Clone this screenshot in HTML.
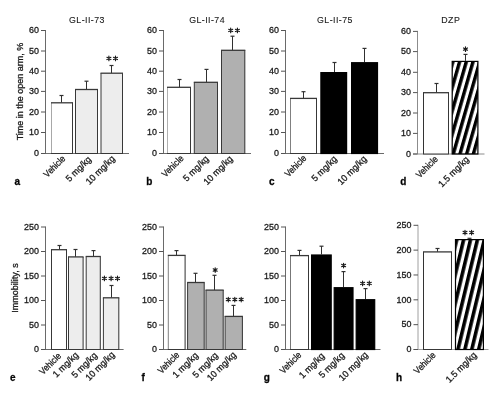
<!DOCTYPE html>
<html><head><meta charset="utf-8"><style>
html,body{margin:0;padding:0;background:#fff;overflow:hidden;}
svg{display:block;will-change:transform;}
text{font-family:"Liberation Sans", sans-serif;fill:#1a1a1a;stroke:#1a1a1a;stroke-width:0.3px;}
.t{font-size:9.5px;}
.x{font-size:9.3px;}
.y{font-size:9px;}
.T{font-size:8.8px;letter-spacing:0.45px;stroke-width:0.1px;}
.L{font-size:10px;font-weight:bold;fill:#000;}
</style></head><body>
<svg width="499" height="401" viewBox="0 0 499 401">
<defs>
<pattern id="stripeD" patternUnits="userSpaceOnUse" x="-0.11" y="0" width="6.44" height="6.44" patternTransform="rotate(16)">
<rect x="0" y="0" width="3.4" height="6.44" fill="#000"/>
</pattern>
<pattern id="stripeH" patternUnits="userSpaceOnUse" x="1.75" y="0" width="6.71" height="6.71" patternTransform="rotate(13.5)">
<rect x="0" y="0" width="3.55" height="6.71" fill="#000"/>
</pattern>
</defs>
<rect width="499" height="401" fill="#fff"/>
<line x1="45.5" y1="30.0" x2="45.5" y2="153.5" stroke="#6a6a6a" stroke-width="1"/>
<line x1="41.0" y1="153.5" x2="129" y2="153.5" stroke="#6a6a6a" stroke-width="1"/>
<line x1="41.0" y1="153.5" x2="45.5" y2="153.5" stroke="#555555" stroke-width="1"/>
<text transform="translate(38.9,156.2) scale(0.94,1)" text-anchor="end" class="t">0</text>
<line x1="41.0" y1="132.5" x2="45.5" y2="132.5" stroke="#555555" stroke-width="1"/>
<text transform="translate(38.9,135.2) scale(0.94,1)" text-anchor="end" class="t">10</text>
<line x1="41.0" y1="112" x2="45.5" y2="112" stroke="#555555" stroke-width="1"/>
<text transform="translate(38.9,114.7) scale(0.94,1)" text-anchor="end" class="t">20</text>
<line x1="41.0" y1="91.4" x2="45.5" y2="91.4" stroke="#555555" stroke-width="1"/>
<text transform="translate(38.9,94.10000000000001) scale(0.94,1)" text-anchor="end" class="t">30</text>
<line x1="41.0" y1="71.2" x2="45.5" y2="71.2" stroke="#555555" stroke-width="1"/>
<text transform="translate(38.9,73.9) scale(0.94,1)" text-anchor="end" class="t">40</text>
<line x1="41.0" y1="51" x2="45.5" y2="51" stroke="#555555" stroke-width="1"/>
<text transform="translate(38.9,53.7) scale(0.94,1)" text-anchor="end" class="t">50</text>
<line x1="41.0" y1="30.5" x2="45.5" y2="30.5" stroke="#555555" stroke-width="1"/>
<text transform="translate(38.9,33.2) scale(0.94,1)" text-anchor="end" class="t">60</text>
<line x1="61.5" y1="102.8" x2="61.5" y2="95.5" stroke="#303030" stroke-width="1"/>
<line x1="59.5" y1="95.5" x2="63.5" y2="95.5" stroke="#303030" stroke-width="1.2"/>
<rect x="51.5" y="102.8" width="21.0" height="50.7" fill="#fff"/>
<path d="M51.5,153.5V102.8" stroke="#a8a8a8" stroke-width="1" fill="none"/>
<path d="M51.0,102.8H73.0" stroke="#383838" stroke-width="1.3" fill="none"/>
<path d="M72.5,102.8V153.5" stroke="#383838" stroke-width="1.05" fill="none"/>
<path d="M51.0,153.5H73.0" stroke="#383838" stroke-width="1" fill="none"/>
<line x1="86.5" y1="89.5" x2="86.5" y2="81.2" stroke="#303030" stroke-width="1"/>
<line x1="84.5" y1="81.2" x2="88.5" y2="81.2" stroke="#303030" stroke-width="1.2"/>
<rect x="75.5" y="89.5" width="22.0" height="64.0" fill="#ededed"/>
<path d="M75.5,153.5V89.5" stroke="#383838" stroke-width="1" fill="none"/>
<path d="M75.0,89.5H98.0" stroke="#383838" stroke-width="1.3" fill="none"/>
<path d="M97.5,89.5V153.5" stroke="#383838" stroke-width="1.05" fill="none"/>
<path d="M75.0,153.5H98.0" stroke="#383838" stroke-width="1" fill="none"/>
<line x1="111.5" y1="73.2" x2="111.5" y2="65.5" stroke="#303030" stroke-width="1"/>
<line x1="109.5" y1="65.5" x2="113.5" y2="65.5" stroke="#303030" stroke-width="1.2"/>
<rect x="101" y="73.2" width="21.5" height="80.3" fill="#ededed"/>
<path d="M101,153.5V73.2" stroke="#383838" stroke-width="1" fill="none"/>
<path d="M100.5,73.2H123.0" stroke="#383838" stroke-width="1.3" fill="none"/>
<path d="M122.5,73.2V153.5" stroke="#383838" stroke-width="1.05" fill="none"/>
<path d="M100.5,153.5H123.0" stroke="#383838" stroke-width="1" fill="none"/>
<path d="M108.90,56.10L108.90,60.70M106.91,57.25L110.89,59.55M110.89,57.25L106.91,59.55" stroke="#1a1a1a" stroke-width="1.15" fill="none" stroke-linecap="round"/>
<path d="M115.50,56.10L115.50,60.70M113.51,57.25L117.49,59.55M117.49,57.25L113.51,59.55" stroke="#1a1a1a" stroke-width="1.15" fill="none" stroke-linecap="round"/>
<text transform="translate(66.00,159.25) rotate(-45) scale(0.88,1)" text-anchor="end" class="x">Vehicle</text>
<text transform="translate(91.85,159.90) rotate(-45) scale(0.96,1)" text-anchor="end" class="x">5 mg/kg</text>
<text transform="translate(115.40,159.25) rotate(-45) scale(0.96,1)" text-anchor="end" class="x">10 mg/kg</text>
<text x="14.5" y="185" class="L">a</text>
<text x="87.0" y="22.5" text-anchor="middle" class="T">GL-II-73</text>
<text transform="translate(22.5,91.5) rotate(-90)" text-anchor="middle" class="y">Time in the open arm, %</text>
<line x1="163.5" y1="30.0" x2="163.5" y2="153.5" stroke="#6a6a6a" stroke-width="1"/>
<line x1="159.0" y1="153.5" x2="251" y2="153.5" stroke="#6a6a6a" stroke-width="1"/>
<line x1="159.0" y1="153.5" x2="163.5" y2="153.5" stroke="#555555" stroke-width="1"/>
<text transform="translate(156.9,156.2) scale(0.94,1)" text-anchor="end" class="t">0</text>
<line x1="159.0" y1="132.5" x2="163.5" y2="132.5" stroke="#555555" stroke-width="1"/>
<text transform="translate(156.9,135.2) scale(0.94,1)" text-anchor="end" class="t">10</text>
<line x1="159.0" y1="112" x2="163.5" y2="112" stroke="#555555" stroke-width="1"/>
<text transform="translate(156.9,114.7) scale(0.94,1)" text-anchor="end" class="t">20</text>
<line x1="159.0" y1="91.4" x2="163.5" y2="91.4" stroke="#555555" stroke-width="1"/>
<text transform="translate(156.9,94.10000000000001) scale(0.94,1)" text-anchor="end" class="t">30</text>
<line x1="159.0" y1="71.2" x2="163.5" y2="71.2" stroke="#555555" stroke-width="1"/>
<text transform="translate(156.9,73.9) scale(0.94,1)" text-anchor="end" class="t">40</text>
<line x1="159.0" y1="51" x2="163.5" y2="51" stroke="#555555" stroke-width="1"/>
<text transform="translate(156.9,53.7) scale(0.94,1)" text-anchor="end" class="t">50</text>
<line x1="159.0" y1="30.5" x2="163.5" y2="30.5" stroke="#555555" stroke-width="1"/>
<text transform="translate(156.9,33.2) scale(0.94,1)" text-anchor="end" class="t">60</text>
<line x1="179.5" y1="87.3" x2="179.5" y2="79.5" stroke="#303030" stroke-width="1"/>
<line x1="177.5" y1="79.5" x2="181.5" y2="79.5" stroke="#303030" stroke-width="1.2"/>
<rect x="167.5" y="87.3" width="23.0" height="66.2" fill="#fff"/>
<path d="M167.5,153.5V87.3" stroke="#b0b0b0" stroke-width="1" fill="none"/>
<path d="M167.0,87.3H191.0" stroke="#383838" stroke-width="1.3" fill="none"/>
<path d="M190.5,87.3V153.5" stroke="#383838" stroke-width="1.05" fill="none"/>
<path d="M167.0,153.5H191.0" stroke="#383838" stroke-width="1" fill="none"/>
<line x1="206.5" y1="82.3" x2="206.5" y2="69.4" stroke="#303030" stroke-width="1"/>
<line x1="204.5" y1="69.4" x2="208.5" y2="69.4" stroke="#303030" stroke-width="1.2"/>
<rect x="194.3" y="82.3" width="23.19999999999999" height="71.2" fill="#b0b0b0"/>
<path d="M194.3,153.5V82.3" stroke="#383838" stroke-width="1" fill="none"/>
<path d="M193.8,82.3H218.0" stroke="#383838" stroke-width="1.3" fill="none"/>
<path d="M217.5,82.3V153.5" stroke="#383838" stroke-width="1.05" fill="none"/>
<path d="M193.8,153.5H218.0" stroke="#383838" stroke-width="1" fill="none"/>
<line x1="232.5" y1="50.3" x2="232.5" y2="36.2" stroke="#303030" stroke-width="1"/>
<line x1="230.5" y1="36.2" x2="234.5" y2="36.2" stroke="#303030" stroke-width="1.2"/>
<rect x="221.5" y="50.3" width="23.30000000000001" height="103.2" fill="#b0b0b0"/>
<path d="M221.5,153.5V50.3" stroke="#383838" stroke-width="1" fill="none"/>
<path d="M221.0,50.3H245.3" stroke="#383838" stroke-width="1.3" fill="none"/>
<path d="M244.8,50.3V153.5" stroke="#383838" stroke-width="1.05" fill="none"/>
<path d="M221.0,153.5H245.3" stroke="#383838" stroke-width="1" fill="none"/>
<path d="M230.70,28.10L230.70,32.70M228.71,29.25L232.69,31.55M232.69,29.25L228.71,31.55" stroke="#1a1a1a" stroke-width="1.15" fill="none" stroke-linecap="round"/>
<path d="M237.40,28.10L237.40,32.70M235.41,29.25L239.39,31.55M239.39,29.25L235.41,31.55" stroke="#1a1a1a" stroke-width="1.15" fill="none" stroke-linecap="round"/>
<text transform="translate(184.15,159.00) rotate(-45) scale(0.88,1)" text-anchor="end" class="x">Vehicle</text>
<text transform="translate(209.30,159.45) rotate(-45) scale(0.96,1)" text-anchor="end" class="x">5 mg/kg</text>
<text transform="translate(233.15,159.45) rotate(-45) scale(0.96,1)" text-anchor="end" class="x">10 mg/kg</text>
<text x="146.3" y="184.5" class="L">b</text>
<text x="207.1" y="22.5" text-anchor="middle" class="T">GL-II-74</text>
<line x1="285.5" y1="30.0" x2="285.5" y2="153.5" stroke="#6a6a6a" stroke-width="1"/>
<line x1="281.0" y1="153.5" x2="384" y2="153.5" stroke="#6a6a6a" stroke-width="1"/>
<line x1="281.0" y1="153.5" x2="285.5" y2="153.5" stroke="#555555" stroke-width="1"/>
<text transform="translate(278.9,156.2) scale(0.94,1)" text-anchor="end" class="t">0</text>
<line x1="281.0" y1="132.5" x2="285.5" y2="132.5" stroke="#555555" stroke-width="1"/>
<text transform="translate(278.9,135.2) scale(0.94,1)" text-anchor="end" class="t">10</text>
<line x1="281.0" y1="112" x2="285.5" y2="112" stroke="#555555" stroke-width="1"/>
<text transform="translate(278.9,114.7) scale(0.94,1)" text-anchor="end" class="t">20</text>
<line x1="281.0" y1="91.4" x2="285.5" y2="91.4" stroke="#555555" stroke-width="1"/>
<text transform="translate(278.9,94.10000000000001) scale(0.94,1)" text-anchor="end" class="t">30</text>
<line x1="281.0" y1="71.2" x2="285.5" y2="71.2" stroke="#555555" stroke-width="1"/>
<text transform="translate(278.9,73.9) scale(0.94,1)" text-anchor="end" class="t">40</text>
<line x1="281.0" y1="51" x2="285.5" y2="51" stroke="#555555" stroke-width="1"/>
<text transform="translate(278.9,53.7) scale(0.94,1)" text-anchor="end" class="t">50</text>
<line x1="281.0" y1="30.5" x2="285.5" y2="30.5" stroke="#555555" stroke-width="1"/>
<text transform="translate(278.9,33.2) scale(0.94,1)" text-anchor="end" class="t">60</text>
<line x1="303.5" y1="98.4" x2="303.5" y2="91.7" stroke="#303030" stroke-width="1"/>
<line x1="301.5" y1="91.7" x2="305.5" y2="91.7" stroke="#303030" stroke-width="1.2"/>
<rect x="290.5" y="98.4" width="26.0" height="55.099999999999994" fill="#fff"/>
<path d="M290.5,153.5V98.4" stroke="#808080" stroke-width="1" fill="none"/>
<path d="M290.0,98.4H317.0" stroke="#383838" stroke-width="1.3" fill="none"/>
<path d="M316.5,98.4V153.5" stroke="#383838" stroke-width="1.05" fill="none"/>
<path d="M290.0,153.5H317.0" stroke="#383838" stroke-width="1" fill="none"/>
<line x1="334.5" y1="72" x2="334.5" y2="62.5" stroke="#303030" stroke-width="1"/>
<line x1="332.5" y1="62.5" x2="336.5" y2="62.5" stroke="#303030" stroke-width="1.2"/>
<rect x="320.90" y="72.60" width="25.70" height="80.90" fill="#000" stroke="#000" stroke-width="1.2"/>
<line x1="364.5" y1="62.1" x2="364.5" y2="48.4" stroke="#303030" stroke-width="1"/>
<line x1="362.5" y1="48.4" x2="366.5" y2="48.4" stroke="#303030" stroke-width="1.2"/>
<rect x="351.60" y="62.70" width="25.90" height="90.80" fill="#000" stroke="#000" stroke-width="1.2"/>
<text transform="translate(307.05,158.80) rotate(-45) scale(0.88,1)" text-anchor="end" class="x">Vehicle</text>
<text transform="translate(337.60,159.55) rotate(-45) scale(0.96,1)" text-anchor="end" class="x">5 mg/kg</text>
<text transform="translate(367.15,159.55) rotate(-45) scale(0.96,1)" text-anchor="end" class="x">10 mg/kg</text>
<text x="269" y="184.8" class="L">c</text>
<text x="335.0" y="22.5" text-anchor="middle" class="T">GL-II-75</text>
<line x1="417.5" y1="30.9" x2="417.5" y2="154" stroke="#8c8c8c" stroke-width="1"/>
<line x1="413.0" y1="154" x2="484.5" y2="154" stroke="#8c8c8c" stroke-width="1"/>
<line x1="413.0" y1="154" x2="417.5" y2="154" stroke="#555555" stroke-width="1"/>
<text transform="translate(410.9,156.7) scale(0.94,1)" text-anchor="end" class="t">0</text>
<line x1="413.0" y1="133.4" x2="417.5" y2="133.4" stroke="#555555" stroke-width="1"/>
<text transform="translate(410.9,136.1) scale(0.94,1)" text-anchor="end" class="t">10</text>
<line x1="413.0" y1="113" x2="417.5" y2="113" stroke="#555555" stroke-width="1"/>
<text transform="translate(410.9,115.7) scale(0.94,1)" text-anchor="end" class="t">20</text>
<line x1="413.0" y1="92.6" x2="417.5" y2="92.6" stroke="#555555" stroke-width="1"/>
<text transform="translate(410.9,95.3) scale(0.94,1)" text-anchor="end" class="t">30</text>
<line x1="413.0" y1="72.3" x2="417.5" y2="72.3" stroke="#555555" stroke-width="1"/>
<text transform="translate(410.9,75.0) scale(0.94,1)" text-anchor="end" class="t">40</text>
<line x1="413.0" y1="51.6" x2="417.5" y2="51.6" stroke="#555555" stroke-width="1"/>
<text transform="translate(410.9,54.300000000000004) scale(0.94,1)" text-anchor="end" class="t">50</text>
<line x1="413.0" y1="31.4" x2="417.5" y2="31.4" stroke="#555555" stroke-width="1"/>
<text transform="translate(410.9,34.1) scale(0.94,1)" text-anchor="end" class="t">60</text>
<line x1="436.5" y1="92.7" x2="436.5" y2="83.5" stroke="#303030" stroke-width="1"/>
<line x1="434.5" y1="83.5" x2="438.5" y2="83.5" stroke="#303030" stroke-width="1.2"/>
<rect x="423.5" y="92.7" width="25.0" height="61.3" fill="#fff"/>
<path d="M423.5,154V92.7" stroke="#333333" stroke-width="1" fill="none"/>
<path d="M423.0,92.7H449.0" stroke="#383838" stroke-width="1.3" fill="none"/>
<path d="M448.5,92.7V154" stroke="#383838" stroke-width="1.05" fill="none"/>
<path d="M423.0,154H449.0" stroke="#383838" stroke-width="1" fill="none"/>
<line x1="465.5" y1="60.8" x2="465.5" y2="54.4" stroke="#303030" stroke-width="1"/>
<line x1="463.5" y1="54.4" x2="467.5" y2="54.4" stroke="#303030" stroke-width="1.2"/>
<rect x="452.20" y="61.40" width="25.70" height="92.60" fill="url(#stripeD)" stroke="#000" stroke-width="1.2"/>
<path d="M465.50,46.80L465.50,51.40M463.51,47.95L467.49,50.25M467.49,47.95L463.51,50.25" stroke="#1a1a1a" stroke-width="1.15" fill="none" stroke-linecap="round"/>
<text transform="translate(438.45,159.80) rotate(-45) scale(0.88,1)" text-anchor="end" class="x">Vehicle</text>
<text transform="translate(469.60,160.05) rotate(-45) scale(0.96,1)" text-anchor="end" class="x">1.5 mg/kg</text>
<text x="400.2" y="184.7" class="L">d</text>
<text x="450.8" y="23" text-anchor="middle" class="T">DZP</text>
<line x1="45.5" y1="226.5" x2="45.5" y2="349.5" stroke="#6a6a6a" stroke-width="1"/>
<line x1="41.0" y1="349.5" x2="123.6" y2="349.5" stroke="#6a6a6a" stroke-width="1"/>
<line x1="41.0" y1="349.5" x2="45.5" y2="349.5" stroke="#555555" stroke-width="1"/>
<text transform="translate(38.9,352.2) scale(0.94,1)" text-anchor="end" class="t">0</text>
<line x1="41.0" y1="325.0" x2="45.5" y2="325.0" stroke="#555555" stroke-width="1"/>
<text transform="translate(38.9,327.7) scale(0.94,1)" text-anchor="end" class="t">50</text>
<line x1="41.0" y1="300.5" x2="45.5" y2="300.5" stroke="#555555" stroke-width="1"/>
<text transform="translate(38.9,303.2) scale(0.94,1)" text-anchor="end" class="t">100</text>
<line x1="41.0" y1="276.0" x2="45.5" y2="276.0" stroke="#555555" stroke-width="1"/>
<text transform="translate(38.9,278.7) scale(0.94,1)" text-anchor="end" class="t">150</text>
<line x1="41.0" y1="251.5" x2="45.5" y2="251.5" stroke="#555555" stroke-width="1"/>
<text transform="translate(38.9,254.2) scale(0.94,1)" text-anchor="end" class="t">200</text>
<line x1="41.0" y1="227.0" x2="45.5" y2="227.0" stroke="#555555" stroke-width="1"/>
<text transform="translate(38.9,229.7) scale(0.94,1)" text-anchor="end" class="t">250</text>
<line x1="59.5" y1="249.7" x2="59.5" y2="245.5" stroke="#303030" stroke-width="1"/>
<line x1="57.5" y1="245.5" x2="61.5" y2="245.5" stroke="#303030" stroke-width="1.2"/>
<rect x="51.5" y="249.7" width="15.0" height="99.80000000000001" fill="#fff"/>
<path d="M51.5,349.5V249.7" stroke="#383838" stroke-width="1" fill="none"/>
<path d="M51.0,249.7H67.0" stroke="#383838" stroke-width="1.3" fill="none"/>
<path d="M66.5,249.7V349.5" stroke="#383838" stroke-width="1.05" fill="none"/>
<path d="M51.0,349.5H67.0" stroke="#383838" stroke-width="1" fill="none"/>
<line x1="75.5" y1="256.9" x2="75.5" y2="249.5" stroke="#303030" stroke-width="1"/>
<line x1="73.5" y1="249.5" x2="77.5" y2="249.5" stroke="#303030" stroke-width="1.2"/>
<rect x="68.5" y="256.9" width="14.599999999999994" height="92.60000000000002" fill="#ededed"/>
<path d="M68.5,349.5V256.9" stroke="#383838" stroke-width="1" fill="none"/>
<path d="M68.0,256.9H83.6" stroke="#383838" stroke-width="1.3" fill="none"/>
<path d="M83.1,256.9V349.5" stroke="#383838" stroke-width="1.05" fill="none"/>
<path d="M68.0,349.5H83.6" stroke="#383838" stroke-width="1" fill="none"/>
<line x1="93.5" y1="256.5" x2="93.5" y2="250.6" stroke="#303030" stroke-width="1"/>
<line x1="91.5" y1="250.6" x2="95.5" y2="250.6" stroke="#303030" stroke-width="1.2"/>
<rect x="86.2" y="256.5" width="14.099999999999994" height="93.0" fill="#ededed"/>
<path d="M86.2,349.5V256.5" stroke="#383838" stroke-width="1" fill="none"/>
<path d="M85.7,256.5H100.8" stroke="#383838" stroke-width="1.3" fill="none"/>
<path d="M100.3,256.5V349.5" stroke="#383838" stroke-width="1.05" fill="none"/>
<path d="M85.7,349.5H100.8" stroke="#383838" stroke-width="1" fill="none"/>
<line x1="111.5" y1="297.8" x2="111.5" y2="285.5" stroke="#303030" stroke-width="1"/>
<line x1="109.5" y1="285.5" x2="113.5" y2="285.5" stroke="#303030" stroke-width="1.2"/>
<rect x="103.4" y="297.8" width="15.399999999999991" height="51.69999999999999" fill="#ededed"/>
<path d="M103.4,349.5V297.8" stroke="#383838" stroke-width="1" fill="none"/>
<path d="M102.9,297.8H119.3" stroke="#383838" stroke-width="1.3" fill="none"/>
<path d="M118.8,297.8V349.5" stroke="#383838" stroke-width="1.05" fill="none"/>
<path d="M102.9,349.5H119.3" stroke="#383838" stroke-width="1" fill="none"/>
<path d="M104.40,276.10L104.40,280.70M102.41,277.25L106.39,279.55M106.39,277.25L102.41,279.55" stroke="#1a1a1a" stroke-width="1.15" fill="none" stroke-linecap="round"/>
<path d="M111.10,276.10L111.10,280.70M109.11,277.25L113.09,279.55M113.09,277.25L109.11,279.55" stroke="#1a1a1a" stroke-width="1.15" fill="none" stroke-linecap="round"/>
<path d="M117.50,276.10L117.50,280.70M115.51,277.25L119.49,279.55M119.49,277.25L115.51,279.55" stroke="#1a1a1a" stroke-width="1.15" fill="none" stroke-linecap="round"/>
<text transform="translate(61.70,356.50) rotate(-45) scale(0.88,1)" text-anchor="end" class="x">Vehicle</text>
<text transform="translate(78.95,355.65) rotate(-45) scale(0.96,1)" text-anchor="end" class="x">1 mg/kg</text>
<text transform="translate(97.70,356.10) rotate(-45) scale(0.96,1)" text-anchor="end" class="x">5 mg/kg</text>
<text transform="translate(115.20,355.25) rotate(-45) scale(0.96,1)" text-anchor="end" class="x">10 mg/kg</text>
<text x="10" y="381" class="L">e</text>
<text transform="translate(18,288) rotate(-90)" text-anchor="middle" class="y">Immobility, s</text>
<line x1="163.5" y1="226.5" x2="163.5" y2="349.5" stroke="#6a6a6a" stroke-width="1"/>
<line x1="159.0" y1="349.5" x2="246.3" y2="349.5" stroke="#6a6a6a" stroke-width="1"/>
<line x1="159.0" y1="349.5" x2="163.5" y2="349.5" stroke="#555555" stroke-width="1"/>
<text transform="translate(156.9,352.2) scale(0.94,1)" text-anchor="end" class="t">0</text>
<line x1="159.0" y1="325.0" x2="163.5" y2="325.0" stroke="#555555" stroke-width="1"/>
<text transform="translate(156.9,327.7) scale(0.94,1)" text-anchor="end" class="t">50</text>
<line x1="159.0" y1="300.5" x2="163.5" y2="300.5" stroke="#555555" stroke-width="1"/>
<text transform="translate(156.9,303.2) scale(0.94,1)" text-anchor="end" class="t">100</text>
<line x1="159.0" y1="276.0" x2="163.5" y2="276.0" stroke="#555555" stroke-width="1"/>
<text transform="translate(156.9,278.7) scale(0.94,1)" text-anchor="end" class="t">150</text>
<line x1="159.0" y1="251.5" x2="163.5" y2="251.5" stroke="#555555" stroke-width="1"/>
<text transform="translate(156.9,254.2) scale(0.94,1)" text-anchor="end" class="t">200</text>
<line x1="159.0" y1="227.0" x2="163.5" y2="227.0" stroke="#555555" stroke-width="1"/>
<text transform="translate(156.9,229.7) scale(0.94,1)" text-anchor="end" class="t">250</text>
<line x1="176.5" y1="255.4" x2="176.5" y2="250.6" stroke="#303030" stroke-width="1"/>
<line x1="174.5" y1="250.6" x2="178.5" y2="250.6" stroke="#303030" stroke-width="1.2"/>
<rect x="168.3" y="255.4" width="16.799999999999983" height="94.1" fill="#fff"/>
<path d="M168.3,349.5V255.4" stroke="#808080" stroke-width="1" fill="none"/>
<path d="M167.8,255.4H185.6" stroke="#383838" stroke-width="1.3" fill="none"/>
<path d="M185.1,255.4V349.5" stroke="#383838" stroke-width="1.05" fill="none"/>
<path d="M167.8,349.5H185.6" stroke="#383838" stroke-width="1" fill="none"/>
<line x1="195.5" y1="282.5" x2="195.5" y2="273.3" stroke="#303030" stroke-width="1"/>
<line x1="193.5" y1="273.3" x2="197.5" y2="273.3" stroke="#303030" stroke-width="1.2"/>
<rect x="187.6" y="282.5" width="16.599999999999994" height="67.0" fill="#b0b0b0"/>
<path d="M187.6,349.5V282.5" stroke="#383838" stroke-width="1" fill="none"/>
<path d="M187.1,282.5H204.7" stroke="#383838" stroke-width="1.3" fill="none"/>
<path d="M204.2,282.5V349.5" stroke="#383838" stroke-width="1.05" fill="none"/>
<path d="M187.1,349.5H204.7" stroke="#383838" stroke-width="1" fill="none"/>
<line x1="214.5" y1="290.1" x2="214.5" y2="275.3" stroke="#303030" stroke-width="1"/>
<line x1="212.5" y1="275.3" x2="216.5" y2="275.3" stroke="#303030" stroke-width="1.2"/>
<rect x="206" y="290.1" width="17.19999999999999" height="59.39999999999998" fill="#b0b0b0"/>
<path d="M206,349.5V290.1" stroke="#383838" stroke-width="1" fill="none"/>
<path d="M205.5,290.1H223.7" stroke="#383838" stroke-width="1.3" fill="none"/>
<path d="M223.2,290.1V349.5" stroke="#383838" stroke-width="1.05" fill="none"/>
<path d="M205.5,349.5H223.7" stroke="#383838" stroke-width="1" fill="none"/>
<line x1="233.5" y1="316.4" x2="233.5" y2="305.4" stroke="#303030" stroke-width="1"/>
<line x1="231.5" y1="305.4" x2="235.5" y2="305.4" stroke="#303030" stroke-width="1.2"/>
<rect x="225.1" y="316.4" width="17.30000000000001" height="33.10000000000002" fill="#b0b0b0"/>
<path d="M225.1,349.5V316.4" stroke="#383838" stroke-width="1" fill="none"/>
<path d="M224.6,316.4H242.9" stroke="#383838" stroke-width="1.3" fill="none"/>
<path d="M242.4,316.4V349.5" stroke="#383838" stroke-width="1.05" fill="none"/>
<path d="M224.6,349.5H242.9" stroke="#383838" stroke-width="1" fill="none"/>
<path d="M215.20,267.70L215.20,272.30M213.21,268.85L217.19,271.15M217.19,268.85L213.21,271.15" stroke="#1a1a1a" stroke-width="1.15" fill="none" stroke-linecap="round"/>
<path d="M228.30,297.20L228.30,301.80M226.31,298.35L230.29,300.65M230.29,298.35L226.31,300.65" stroke="#1a1a1a" stroke-width="1.15" fill="none" stroke-linecap="round"/>
<path d="M234.80,297.20L234.80,301.80M232.81,298.35L236.79,300.65M236.79,298.35L232.81,300.65" stroke="#1a1a1a" stroke-width="1.15" fill="none" stroke-linecap="round"/>
<path d="M241.20,297.20L241.20,301.80M239.21,298.35L243.19,300.65M243.19,298.35L239.21,300.65" stroke="#1a1a1a" stroke-width="1.15" fill="none" stroke-linecap="round"/>
<text transform="translate(180.05,355.50) rotate(-45) scale(0.88,1)" text-anchor="end" class="x">Vehicle</text>
<text transform="translate(198.70,356.10) rotate(-45) scale(0.96,1)" text-anchor="end" class="x">1 mg/kg</text>
<text transform="translate(218.60,356.10) rotate(-45) scale(0.96,1)" text-anchor="end" class="x">5 mg/kg</text>
<text transform="translate(236.75,355.45) rotate(-45) scale(0.96,1)" text-anchor="end" class="x">10 mg/kg</text>
<text x="141.5" y="381" class="L">f</text>
<line x1="285.5" y1="226.5" x2="285.5" y2="349.5" stroke="#6a6a6a" stroke-width="1"/>
<line x1="281.0" y1="349.5" x2="380.5" y2="349.5" stroke="#6a6a6a" stroke-width="1"/>
<line x1="281.0" y1="349.5" x2="285.5" y2="349.5" stroke="#555555" stroke-width="1"/>
<text transform="translate(278.9,352.2) scale(0.94,1)" text-anchor="end" class="t">0</text>
<line x1="281.0" y1="325.0" x2="285.5" y2="325.0" stroke="#555555" stroke-width="1"/>
<text transform="translate(278.9,327.7) scale(0.94,1)" text-anchor="end" class="t">50</text>
<line x1="281.0" y1="300.5" x2="285.5" y2="300.5" stroke="#555555" stroke-width="1"/>
<text transform="translate(278.9,303.2) scale(0.94,1)" text-anchor="end" class="t">100</text>
<line x1="281.0" y1="276.0" x2="285.5" y2="276.0" stroke="#555555" stroke-width="1"/>
<text transform="translate(278.9,278.7) scale(0.94,1)" text-anchor="end" class="t">150</text>
<line x1="281.0" y1="251.5" x2="285.5" y2="251.5" stroke="#555555" stroke-width="1"/>
<text transform="translate(278.9,254.2) scale(0.94,1)" text-anchor="end" class="t">200</text>
<line x1="281.0" y1="227.0" x2="285.5" y2="227.0" stroke="#555555" stroke-width="1"/>
<text transform="translate(278.9,229.7) scale(0.94,1)" text-anchor="end" class="t">250</text>
<line x1="299.5" y1="255.6" x2="299.5" y2="250.4" stroke="#303030" stroke-width="1"/>
<line x1="297.5" y1="250.4" x2="301.5" y2="250.4" stroke="#303030" stroke-width="1.2"/>
<rect x="290.5" y="255.6" width="18.0" height="93.9" fill="#fff"/>
<path d="M290.5,349.5V255.6" stroke="#777777" stroke-width="1" fill="none"/>
<path d="M290.0,255.6H309.0" stroke="#383838" stroke-width="1.3" fill="none"/>
<path d="M308.5,255.6V349.5" stroke="#383838" stroke-width="1.05" fill="none"/>
<path d="M290.0,349.5H309.0" stroke="#383838" stroke-width="1" fill="none"/>
<line x1="321.5" y1="254.4" x2="321.5" y2="246.2" stroke="#303030" stroke-width="1"/>
<line x1="319.5" y1="246.2" x2="323.5" y2="246.2" stroke="#303030" stroke-width="1.2"/>
<rect x="311.60" y="255.00" width="19.60" height="94.50" fill="#000" stroke="#000" stroke-width="1.2"/>
<line x1="343.5" y1="287.1" x2="343.5" y2="271.6" stroke="#303030" stroke-width="1"/>
<line x1="341.5" y1="271.6" x2="345.5" y2="271.6" stroke="#303030" stroke-width="1.2"/>
<rect x="334.20" y="287.70" width="18.80" height="61.80" fill="#000" stroke="#000" stroke-width="1.2"/>
<line x1="365.5" y1="299.1" x2="365.5" y2="288.6" stroke="#303030" stroke-width="1"/>
<line x1="363.5" y1="288.6" x2="367.5" y2="288.6" stroke="#303030" stroke-width="1.2"/>
<rect x="356.20" y="299.70" width="18.50" height="49.80" fill="#000" stroke="#000" stroke-width="1.2"/>
<path d="M343.60,263.20L343.60,267.80M341.61,264.35L345.59,266.65M345.59,264.35L341.61,266.65" stroke="#1a1a1a" stroke-width="1.15" fill="none" stroke-linecap="round"/>
<path d="M362.60,281.10L362.60,285.70M360.61,282.25L364.59,284.55M364.59,282.25L360.61,284.55" stroke="#1a1a1a" stroke-width="1.15" fill="none" stroke-linecap="round"/>
<path d="M369.30,281.10L369.30,285.70M367.31,282.25L371.29,284.55M371.29,282.25L367.31,284.55" stroke="#1a1a1a" stroke-width="1.15" fill="none" stroke-linecap="round"/>
<text transform="translate(302.05,355.50) rotate(-45) scale(0.88,1)" text-anchor="end" class="x">Vehicle</text>
<text transform="translate(325.10,356.55) rotate(-45) scale(0.96,1)" text-anchor="end" class="x">1 mg/kg</text>
<text transform="translate(345.00,356.10) rotate(-45) scale(0.96,1)" text-anchor="end" class="x">5 mg/kg</text>
<text transform="translate(368.55,355.45) rotate(-45) scale(0.96,1)" text-anchor="end" class="x">10 mg/kg</text>
<text x="263.8" y="381" class="L">g</text>
<line x1="418.0" y1="224.8" x2="418.0" y2="349.5" stroke="#a0a0a0" stroke-width="1"/>
<line x1="413.5" y1="349.5" x2="488.5" y2="349.5" stroke="#a0a0a0" stroke-width="1"/>
<line x1="413.5" y1="349.5" x2="418.0" y2="349.5" stroke="#555555" stroke-width="1"/>
<text transform="translate(411.4,352.2) scale(0.94,1)" text-anchor="end" class="t">0</text>
<line x1="413.5" y1="324.66" x2="418.0" y2="324.66" stroke="#555555" stroke-width="1"/>
<text transform="translate(411.4,327.36) scale(0.94,1)" text-anchor="end" class="t">50</text>
<line x1="413.5" y1="299.82" x2="418.0" y2="299.82" stroke="#555555" stroke-width="1"/>
<text transform="translate(411.4,302.52) scale(0.94,1)" text-anchor="end" class="t">100</text>
<line x1="413.5" y1="274.98" x2="418.0" y2="274.98" stroke="#555555" stroke-width="1"/>
<text transform="translate(411.4,277.68) scale(0.94,1)" text-anchor="end" class="t">150</text>
<line x1="413.5" y1="250.14" x2="418.0" y2="250.14" stroke="#555555" stroke-width="1"/>
<text transform="translate(411.4,252.83999999999997) scale(0.94,1)" text-anchor="end" class="t">200</text>
<line x1="413.5" y1="225.3" x2="418.0" y2="225.3" stroke="#555555" stroke-width="1"/>
<text transform="translate(411.4,228.0) scale(0.94,1)" text-anchor="end" class="t">250</text>
<line x1="437.5" y1="251.9" x2="437.5" y2="248.5" stroke="#303030" stroke-width="1"/>
<line x1="435.5" y1="248.5" x2="439.5" y2="248.5" stroke="#303030" stroke-width="1.2"/>
<rect x="423.5" y="251.9" width="28.0" height="97.6" fill="#fff"/>
<path d="M423.5,349.5V251.9" stroke="#333333" stroke-width="1" fill="none"/>
<path d="M423.0,251.9H452.0" stroke="#383838" stroke-width="1.3" fill="none"/>
<path d="M451.5,251.9V349.5" stroke="#383838" stroke-width="1.05" fill="none"/>
<path d="M423.0,349.5H452.0" stroke="#383838" stroke-width="1" fill="none"/>
<line x1="469.5" y1="239.0" x2="469.5" y2="238.3" stroke="#303030" stroke-width="1"/>
<line x1="467.5" y1="238.3" x2="471.5" y2="238.3" stroke="#303030" stroke-width="1.2"/>
<rect x="455.50" y="239.60" width="27.90" height="109.90" fill="url(#stripeH)" stroke="#000" stroke-width="1.2"/>
<path d="M465.00,230.20L465.00,234.80M463.01,231.35L466.99,233.65M466.99,231.35L463.01,233.65" stroke="#1a1a1a" stroke-width="1.15" fill="none" stroke-linecap="round"/>
<path d="M471.60,230.20L471.60,234.80M469.61,231.35L473.59,233.65M473.59,231.35L469.61,233.65" stroke="#1a1a1a" stroke-width="1.15" fill="none" stroke-linecap="round"/>
<text transform="translate(436.25,355.80) rotate(-45) scale(0.88,1)" text-anchor="end" class="x">Vehicle</text>
<text transform="translate(477.20,355.65) rotate(-45) scale(0.96,1)" text-anchor="end" class="x">1.5 mg/kg</text>
<text x="396" y="381" class="L">h</text>
</svg>
</body></html>
